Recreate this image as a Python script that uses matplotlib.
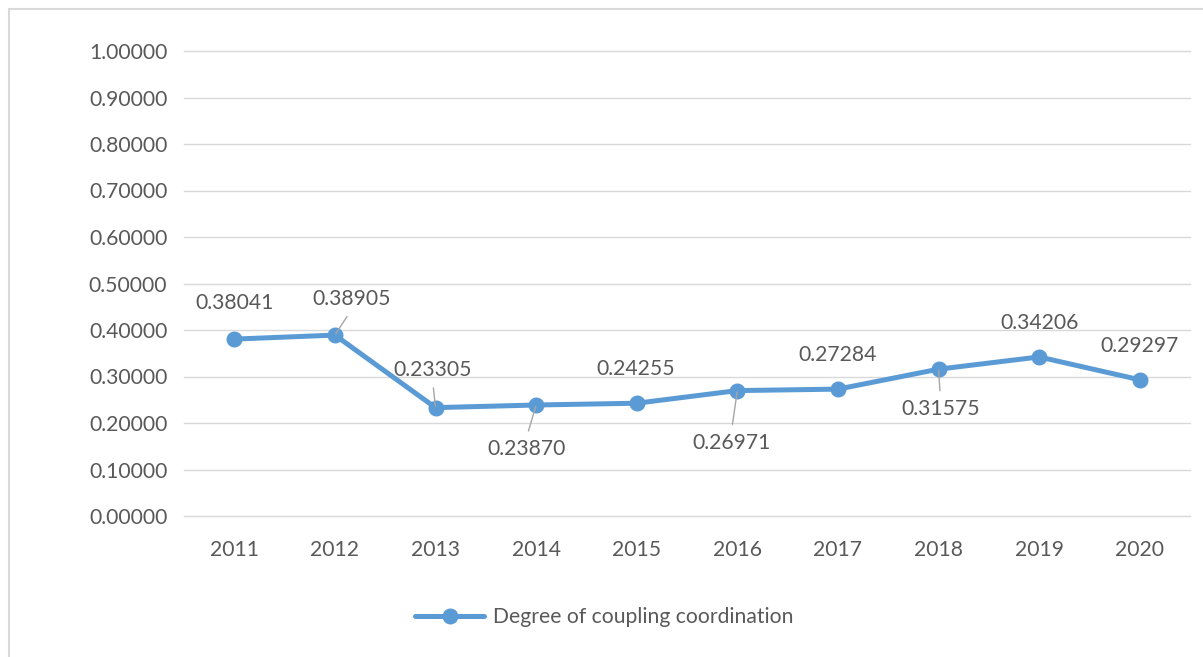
import matplotlib
matplotlib.use("Agg")
import matplotlib.pyplot as plt
from matplotlib.patches import Rectangle

years = ["2011", "2012", "2013", "2014", "2015", "2016", "2017", "2018", "2019", "2020"]
values = [0.38041, 0.38905, 0.23305, 0.23870, 0.24255, 0.26971, 0.27284, 0.31575, 0.34206, 0.29297]
yticks = [0.0, 0.1, 0.2, 0.3, 0.4, 0.5, 0.6, 0.7, 0.8, 0.9, 1.0]
series_name = "Degree of coupling coordination"

# label offsets in pixels (dx, dy) and whether a leader line is drawn
label_offsets = [(0, 36), (17, 36), (-3, 38), (-10, -44), (-1, 34),
                 (-6, -52), (0, 34), (2, -40), (0, 34), (0, 34)]
leaders = [False, True, True, True, False, True, False, True, False, False]

plt.rcParams['font.family'] = ['Lato', 'DejaVu Sans']
TEXT = '#595959'
BLUE = '#5B9BD5'
GRID = '#D9D9D9'
FS = 15.2

fig = plt.figure(figsize=(12.03, 6.57), dpi=100)
W, H = 1203, 657
ax = fig.add_axes([184 / W, (H - 516) / H, (1190 - 184) / W, (516 - 51) / H])

x = list(range(len(years)))
ax.plot(x, values, color=BLUE, lw=3.6, marker='o', ms=10.5, mfc=BLUE, mec=BLUE,
        solid_capstyle='round', zorder=3, label=series_name)

ax.set_xlim(-0.5, len(years) - 0.5)
ax.set_ylim(0, 1.0)
ax.set_yticks(yticks)
ax.set_yticklabels([f"{v:.5f}" for v in yticks])
ax.set_xticks(x)
ax.set_xticklabels(years)
ax.tick_params(axis='both', length=0, labelsize=FS, colors=TEXT)
ax.tick_params(axis='y', pad=12)
ax.tick_params(axis='x', pad=17)
ax.grid(axis='y', color=GRID, lw=1)
for gl in ax.get_ygridlines():
    gl.set_clip_on(False)
ax.set_axisbelow(True)
for s in ax.spines.values():
    s.set_visible(False)

for i, (v, (dx, dy), ld) in enumerate(zip(values, label_offsets, leaders)):
    if ld:
        ax.annotate(f"{v:.5f}", xy=(i, v), xytext=(dx, dy), textcoords='offset pixels',
                    ha='center', va='center', fontsize=FS, color=TEXT,
                    arrowprops=dict(arrowstyle='-', color='#A6A6A6', lw=1,
                                    relpos=(0.5, 0.0) if dy > 0 else (0.5, 1.0),
                                    shrinkA=4, shrinkB=1))
    else:
        ax.annotate(f"{v:.5f}", xy=(i, v), xytext=(dx, dy), textcoords='offset pixels',
                    ha='center', va='center', fontsize=FS, color=TEXT)

leg = fig.legend(loc='center', bbox_to_anchor=(604 / W, (H - 617) / H), frameon=False,
                 fontsize=FS, handlelength=3.3, handletextpad=0.4)
for t in leg.get_texts():
    t.set_color(TEXT)

fig.patches.append(Rectangle((9 / W, -0.05), 1.2, (H - 9) / H + 0.05, transform=fig.transFigure,
                             fill=False, edgecolor=GRID, lw=1.5, clip_on=False))

fig.savefig("out.png", dpi=100, facecolor='white')
